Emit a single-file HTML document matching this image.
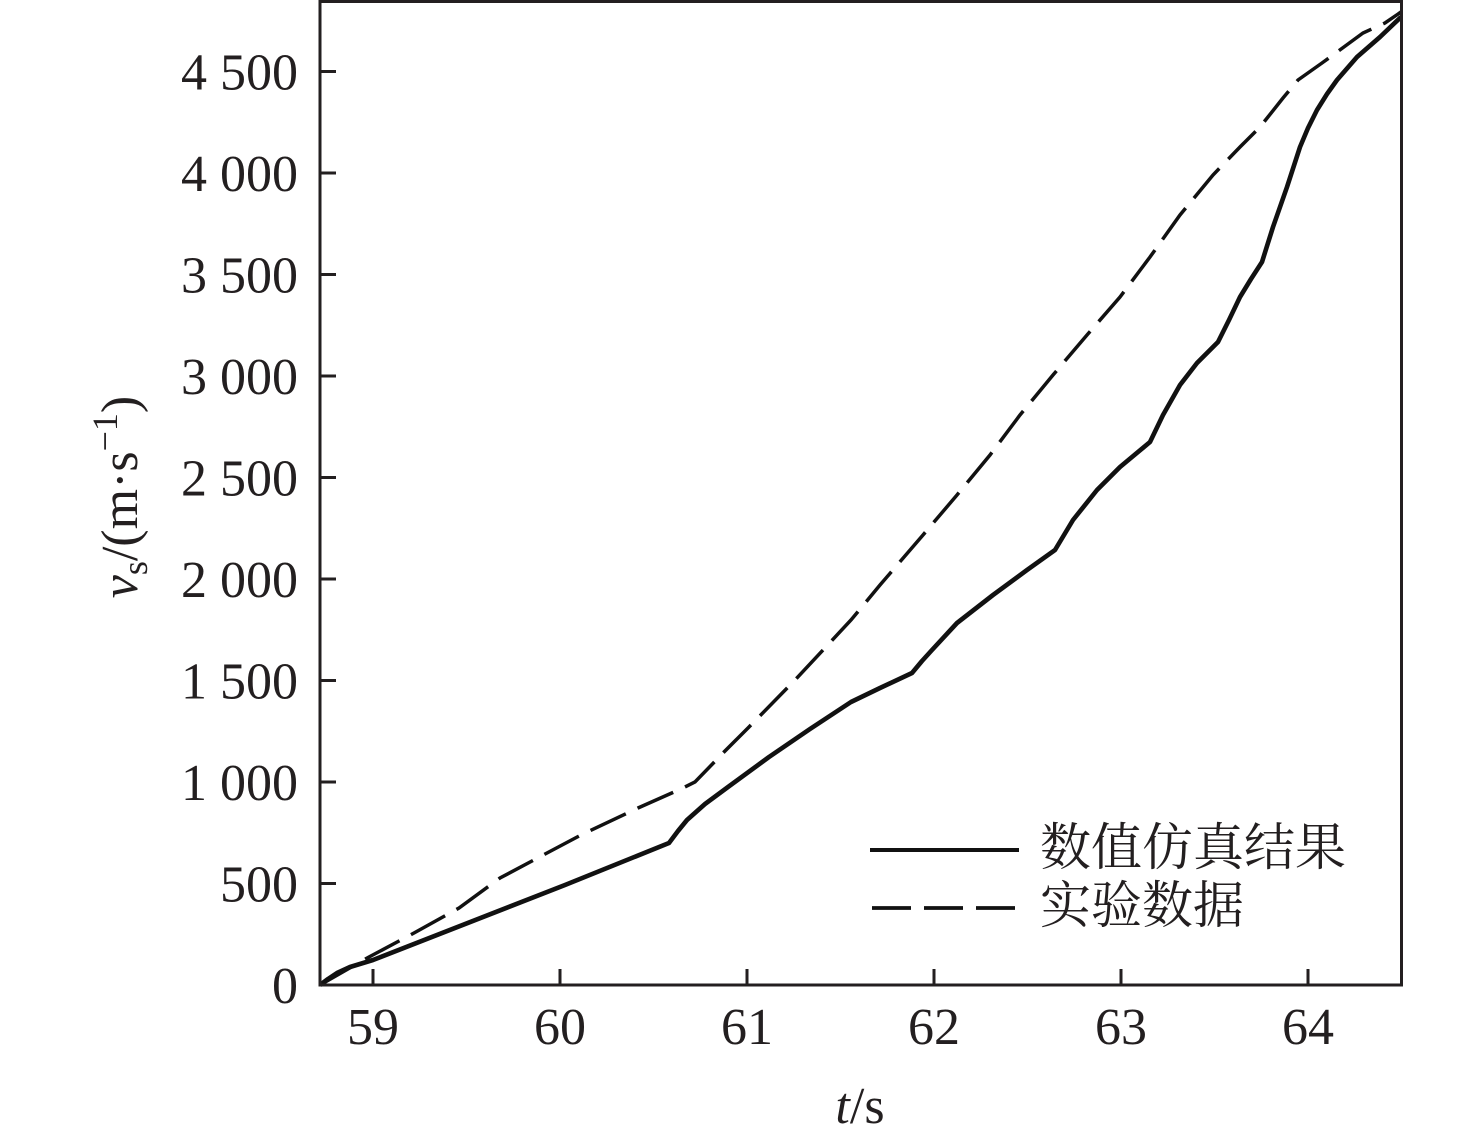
<!DOCTYPE html>
<html>
<head>
<meta charset="utf-8">
<style>
  html, body { margin: 0; padding: 0; background: #ffffff; }
  body { width: 1476px; height: 1140px; overflow: hidden; }
  svg { display: block; }
  .tk { font-family: "Liberation Serif", "Times New Roman", serif; font-size: 52px; fill: #231f20; }
  .cj { font-family: "Liberation Serif", "Noto Serif CJK SC", serif; font-size: 51px; fill: #231f20; }
</style>
</head>
<body>
<svg width="1476" height="1140" viewBox="0 0 1476 1140" xmlns="http://www.w3.org/2000/svg">
  <rect x="0" y="0" width="1476" height="1140" fill="#ffffff"/>

  <!-- curves -->
  <polyline fill="none" stroke="#111" stroke-width="4.6" stroke-linejoin="round" stroke-linecap="butt"
    points="320,985 328,979 337,973 350,967 373,960 565,885 669,843 678,831 687,820 705,804 728,787 769,757 810,729 851,702 880,688 912,673 922,661 932,650 957,623 993,595 1027,570 1055,550 1064,535 1073,520 1097,490 1120,467 1150,442 1163,415 1180,385 1197,363 1218,342 1229,320 1240,297 1251,279 1262,262 1273,227 1287,187 1300,147 1308,128 1317,110 1327,94 1337,80 1357,57 1380,37 1401,17"/>
  <polyline fill="none" stroke="#111" stroke-width="3.5" stroke-dasharray="39 13" stroke-linejoin="miter"
    points="320,985 369,957 414,933 459,908 500,878 547,853 581,835 638,808 683,788 695,782 724,752 749,727 795,680 851,620 880,585 923,535 957,495 990,455 1020,415 1053,375 1087,335 1120,297 1150,257 1180,215 1213,175 1240,147 1260,127 1283,98 1298,80 1322,63 1333,55 1363,33 1385,23 1401,12"/>

  <!-- frame -->
  <rect x="320" y="1.5" width="1081.5" height="983.5" fill="none" stroke="#231f20" stroke-width="3"/>

  <!-- y ticks -->
  <g stroke="#231f20" stroke-width="3">
    <line x1="320" y1="985" x2="336" y2="985"/>
    <line x1="320" y1="883.5" x2="336" y2="883.5"/>
    <line x1="320" y1="782" x2="336" y2="782"/>
    <line x1="320" y1="680.5" x2="336" y2="680.5"/>
    <line x1="320" y1="579" x2="336" y2="579"/>
    <line x1="320" y1="477.5" x2="336" y2="477.5"/>
    <line x1="320" y1="376" x2="336" y2="376"/>
    <line x1="320" y1="274.5" x2="336" y2="274.5"/>
    <line x1="320" y1="173" x2="336" y2="173"/>
    <line x1="320" y1="71.5" x2="336" y2="71.5"/>
  </g>
  <!-- x ticks -->
  <g stroke="#231f20" stroke-width="3">
    <line x1="373" y1="985" x2="373" y2="969"/>
    <line x1="560" y1="985" x2="560" y2="969"/>
    <line x1="747" y1="985" x2="747" y2="969"/>
    <line x1="934" y1="985" x2="934" y2="969"/>
    <line x1="1121" y1="985" x2="1121" y2="969"/>
    <line x1="1308" y1="985" x2="1308" y2="969"/>
  </g>

  <!-- y tick labels -->
  <g class="tk" text-anchor="end">
    <text x="298" y="1003">0</text>
    <text x="298" y="901.5">500</text>
    <text x="298" y="800">1 000</text>
    <text x="298" y="698.5">1 500</text>
    <text x="298" y="597">2 000</text>
    <text x="298" y="495.5">2 500</text>
    <text x="298" y="394">3 000</text>
    <text x="298" y="292.5">3 500</text>
    <text x="298" y="191">4 000</text>
    <text x="298" y="89.5">4 500</text>
  </g>

  <!-- x tick labels -->
  <g class="tk" text-anchor="middle">
    <text x="373" y="1044">59</text>
    <text x="560" y="1044">60</text>
    <text x="747" y="1044">61</text>
    <text x="934" y="1044">62</text>
    <text x="1121" y="1044">63</text>
    <text x="1308" y="1044">64</text>
  </g>

  <!-- axis titles -->
  <text class="tk" x="860" y="1123" text-anchor="middle"><tspan font-style="italic">t</tspan>/s</text>
  <text class="tk" transform="translate(137,497) rotate(-90)" text-anchor="middle"><tspan font-style="italic">v</tspan><tspan font-size="36" dy="10">s</tspan><tspan dy="-10">/(m·s</tspan><tspan font-size="36" dy="-20">−1</tspan><tspan dy="20">)</tspan></text>

  <!-- legend -->
  <line x1="870" y1="850" x2="1019" y2="850" stroke="#111" stroke-width="4"/>
  <line x1="872" y1="908" x2="1016" y2="908" stroke="#111" stroke-width="3.7" stroke-dasharray="39 13"/>
  <text class="cj" x="1040" y="865">数值仿真结果</text>
  <text class="cj" x="1040" y="923">实验数据</text>
</svg>
</body>
</html>
